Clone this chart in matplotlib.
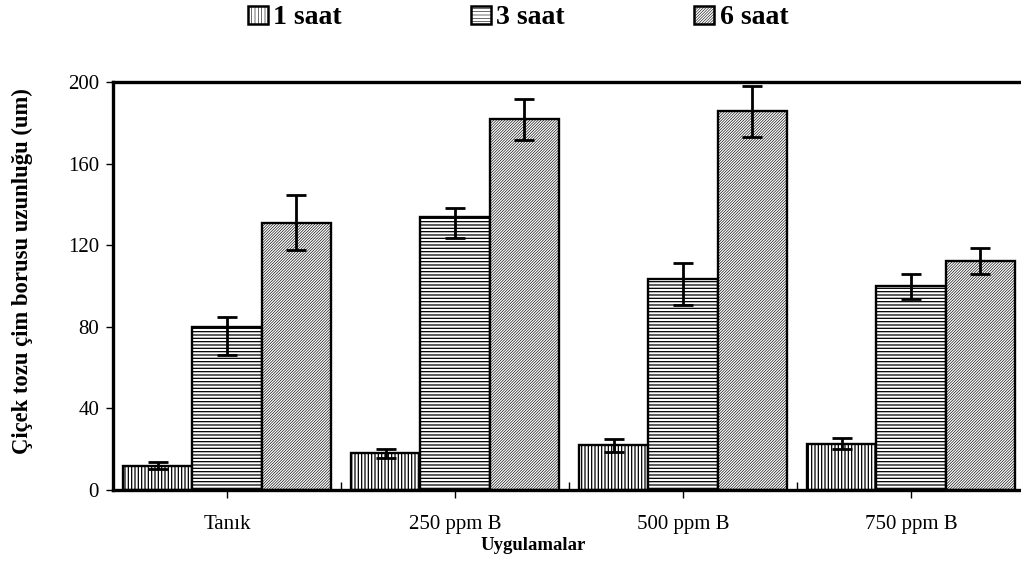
import matplotlib
matplotlib.use("Agg")
import matplotlib.pyplot as plt
import numpy as np
from matplotlib.patches import Patch

# ---- data ----
categories = ["Tanık", "250 ppm B", "500 ppm B", "750 ppm B"]
series = ["1 saat", "3 saat", "6 saat"]
means_1 = [12.0, 18.0, 21.9, 22.7]
means_3 = [80.0, 133.8, 103.3, 100.0]
means_6 = [130.9, 181.7, 185.6, 112.3]
upper_1 = [13.9, 20.1, 24.8, 25.5]
upper_3 = [84.6, 138.1, 111.1, 105.9]
upper_6 = [144.4, 191.8, 198.0, 118.5]
lower_1 = [10.1, 15.8, 18.8, 20.1]
lower_3 = [66.0, 123.4, 90.7, 93.6]
lower_6 = [117.5, 171.4, 173.2, 106.0]
yticks = [0, 40, 80, 120, 160, 200]
ylabel = "Çiçek tozu çim borusu uzunluğu (um)"
xlabel = "Uygulamalar"

plt.rcParams['font.family'] = ['Liberation Serif', 'DejaVu Serif']
plt.rcParams['hatch.color'] = 'black'

fig = plt.figure(figsize=(10.21, 5.62), dpi=100)
W, H = 1021, 562
x0, x1, ytop, ybot = 113, 1025, 82, 490
ax = fig.add_axes([x0 / W, (H - ybot) / H, (x1 - x0) / W, (ybot - ytop) / H])

x = np.arange(len(categories))
bw = 0.303
hatches = ['|||||', '-----', '////////////']
hatch_lw = [0.9, 0.9, 0.45]
all_means = [means_1, means_3, means_6]
all_up = [upper_1, upper_3, upper_6]
all_lo = [lower_1, lower_3, lower_6]
for i, (m, up, lo, h) in enumerate(zip(all_means, all_up, all_lo, hatches)):
    m = np.array(m); up = np.array(up); lo = np.array(lo)
    pos = x + (i - 1) * bw
    plt.rcParams['hatch.linewidth'] = hatch_lw[i]
    ax.bar(pos, m, width=bw, color='white', edgecolor='black', linewidth=1.7,
           hatch=h, zorder=2)
    ax.errorbar(pos, m, yerr=[m - lo, up - m], fmt='none', ecolor='black',
                elinewidth=2, capsize=7, capthick=2, zorder=3)

ax.set_xlim(-0.5, 3.5)
ax.set_ylim(0, 200)
ax.set_yticks(yticks)
ax.set_yticklabels([str(t) for t in yticks], fontsize=15)
ax.set_xticks(x)
ax.set_xticklabels(categories, fontsize=15)
ax.set_xticks(np.arange(0.5, 3.5, 1.0), minor=True)
ax.tick_params(axis='y', direction='out', length=5, width=1, pad=5)
ax.tick_params(axis='x', which='major', direction='out', length=6, width=1, pad=12)
ax.tick_params(axis='x', which='minor', direction='in', length=6, width=1)

for s in ['left', 'top', 'bottom']:
    ax.spines[s].set_linewidth(2.4)
ax.spines['right'].set_visible(False)

ax.set_ylabel(ylabel, fontsize=16.3, fontweight='bold')
ax.yaxis.set_label_coords((22 - x0) / (x1 - x0), (ybot - 271) / (ybot - ytop))
ax.yaxis.label.set_va('center')
ax.set_xlabel(xlabel, fontsize=13.5, fontweight='bold')
ax.xaxis.set_label_coords((533 - x0) / (x1 - x0), (ybot - 545) / (ybot - ytop))
ax.xaxis.label.set_va('center')

handles = []
for h, lw in zip(hatches, hatch_lw):
    plt.rcParams['hatch.linewidth'] = lw * 0.9
    handles.append(Patch(facecolor='white', edgecolor='black', linewidth=1.8, hatch=h))
fig.legend(handles, series, loc='center', bbox_to_anchor=(518 / W, 1 - 18 / H),
           ncol=3, frameon=False, prop={'family': 'Liberation Serif', 'weight': 'bold', 'size': 20},
           handlelength=0.72, handleheight=0.62, handletextpad=0.2, columnspacing=4.65)

fig.savefig("out.png", dpi=100)
